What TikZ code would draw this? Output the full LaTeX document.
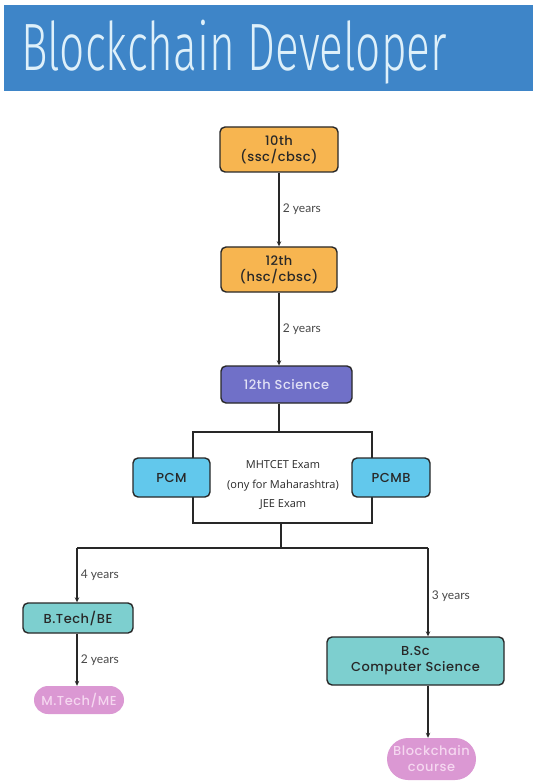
\documentclass[tikz,border=0pt]{standalone}
\usepackage{fontspec}
\setmainfont{Poppins}[UprightFont=* Medium, LetterSpace=4]
\newfontfamily\labelfont{Lato}
\newfontfamily\examfont{Open Sans}
\newfontfamily\titlefont[FakeStretch=0.66,UprightFont=* Light]{Fira Sans}
\usepackage{tikz}
\usetikzlibrary{arrows.meta,positioning}
\usepackage{xcolor}
\definecolor{bannerblue}{RGB}{62,133,200}
\definecolor{titlewhite}{RGB}{222,240,250}
\definecolor{boxorange}{RGB}{247,181,80}
\definecolor{boxpurple}{RGB}{112,112,200}
\definecolor{purpletext}{RGB}{225,225,245}
\definecolor{boxblue}{RGB}{98,200,236}
\definecolor{boxteal}{RGB}{125,207,207}
\definecolor{boxpink}{RGB}{219,152,211}
\definecolor{pinktext}{RGB}{245,215,240}
\definecolor{inkgrey}{RGB}{40,40,40}

\begin{document}
\begin{tikzpicture}[x=1pt, y=-1pt,
    stepbox/.style={draw=inkgrey, line width=1.4pt, rounded corners=5pt,
      align=center, inner sep=0pt, text=inkgrey, font=\fontsize{13}{16}\selectfont},
    goalbox/.style={fill=boxpink, text=pinktext, align=center, inner sep=0pt,
      font=\fontsize{13}{16}\selectfont},
    path/.style={inkgrey, line width=1.1pt},
    flow/.style={path, -{Stealth[length=5pt,width=4.5pt]}},
    yrs/.style={right, font=\labelfont\fontsize{12}{14}\selectfont, text=inkgrey!85}]
    \fill[white] (0,0) rectangle (533,783);

    % ── Title banner ──────────────────────────────────────────
    \fill[bannerblue] (4,5) rectangle (533,91);
    \node[anchor=base west, inner sep=0pt, text=titlewhite,
      font=\titlefont\fontsize{67}{70}\selectfont] (title) at (21,71) {Blockchain Developer};

    % ── School ──────────────────────────────────────────
    \node[stepbox, fill=boxorange, minimum width=118pt, minimum height=45pt]
      (tenth) at (279,149.5) {10th\\(ssc/cbsc)};
    \node[stepbox, fill=boxorange, minimum width=116pt, minimum height=45pt]
      (twelfth) at (279,269.5) {12th\\(hsc/cbsc)};
    \node[stepbox, fill=boxpurple, text=purpletext, minimum width=131pt, minimum height=37pt]
      (science) at (286.5,384.5) {12th Science};

    \draw[flow] (tenth.south) -- (tenth.south |- twelfth.north)
      node[yrs, midway] {2 years};
    \draw[flow] (twelfth.south) -- (twelfth.south |- science.north)
      node[yrs, midway] {2 years};

    % ── Entrance exams ──────────────────────────────────────────
    \node[draw=inkgrey, line width=1.4pt, fill=white, minimum width=179pt, minimum height=91pt]
      (exam) at (282.5,477.5) {};
    \node[align=center, font=\examfont\fontsize{11}{19.5}\selectfont, text=inkgrey]
      (examtext) at (283,485.5) {MHTCET Exam\\(ony for Maharashtra)\\JEE Exam};
    \node[stepbox, fill=boxblue, minimum width=77pt, minimum height=39pt]
      (pcm) at (171.5,477.5) {PCM};
    \node[stepbox, fill=boxblue, minimum width=78pt, minimum height=39pt]
      (pcmb) at (391,477.5) {PCMB};
    \draw[path] (science.south -| twelfth.south) -- (twelfth.south |- exam.north);

    % ── Branching ──────────────────────────────────────────
    \coordinate (fork) at (281,548);
    \coordinate (forkL) at (77,548);
    \coordinate (forkR) at (428,548);
    \draw[path] (exam.south -| fork) -- (fork);
    \draw[path] (forkL) -- (forkR);

    % left: engineering
    \node[stepbox, fill=boxteal, minimum width=110pt, minimum height=30pt]
      (btech) at (78,618) {B.Tech/BE};
    \node[goalbox, rounded corners=14pt, minimum width=90pt, minimum height=28pt]
      (mtech) at (79,700) {M.Tech/ME};
    \draw[flow] (forkL) -- (forkL |- btech.north) node[yrs, midway] {4 years};
    \draw[flow] (forkL |- btech.south) -- (forkL |- mtech.north) node[yrs, midway] {2 years};

    % right: computer science
    \node[stepbox, fill=boxteal, minimum width=177pt, minimum height=48pt]
      (bsc) at (415.5,661) {B.Sc\\Computer Science};
    \node[goalbox, rounded corners=21pt, minimum width=89pt, minimum height=42pt]
      (course) at (431.5,759) {Blockchain\\course};
    \draw[flow] (forkR) -- (forkR |- bsc.north) node[yrs, pos=0.55] {3 years};
    \draw[flow] (forkR |- bsc.south) -- (forkR |- course.north);
  \end{tikzpicture}
\end{document}
